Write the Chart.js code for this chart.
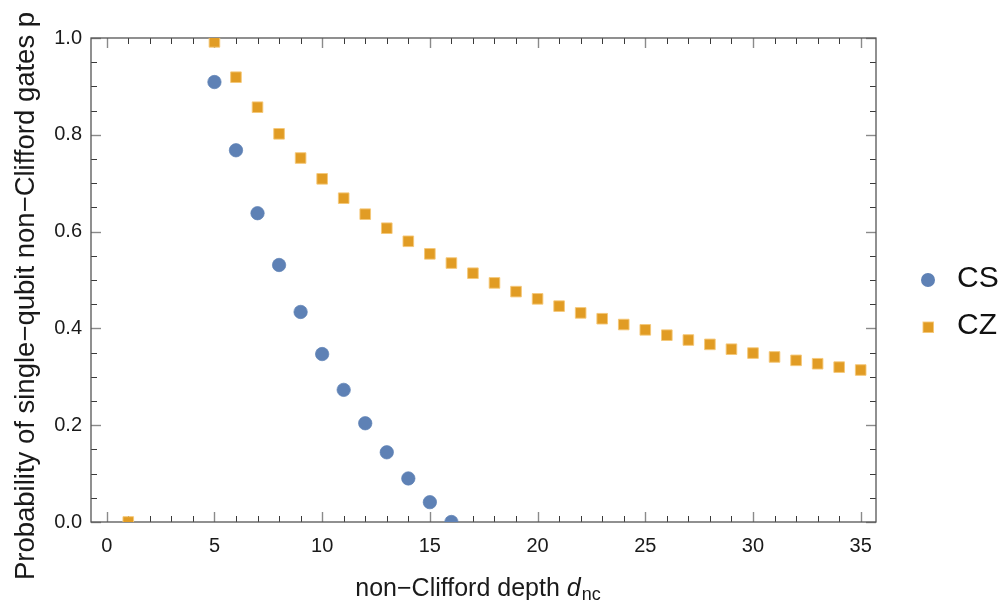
<!DOCTYPE html>
<html>
<head>
<meta charset="utf-8">
<script src="https://cdn.jsdelivr.net/npm/chart.js@4.4.1/dist/chart.umd.min.js"></script>
<style>
  html, body { margin: 0; padding: 0; background: #fff; }
  #wrap { width: 1003px; height: 600px; position: relative; }
</style>
</head>
<body>
<div id="wrap"><canvas id="c" width="1003" height="600"></canvas></div>
<script>
// ---- data ----
const csX = [5, 6, 7, 8, 9, 10, 11, 12, 13, 14, 15, 16];
const csY = [0.909, 0.768, 0.638, 0.531, 0.434, 0.347, 0.273, 0.204, 0.144, 0.090, 0.041, 0.0];
const czX = [1, 5, 6, 7, 8, 9, 10, 11, 12, 13, 14, 15, 16, 17, 18, 19, 20, 21, 22, 23, 24, 25, 26, 27, 28, 29, 30, 31, 32, 33, 34, 35];
const czY = [0.0, 0.992, 0.919, 0.857, 0.802, 0.752, 0.709, 0.669, 0.636, 0.607, 0.580, 0.554, 0.535, 0.514, 0.494, 0.476, 0.461, 0.446, 0.432, 0.420, 0.408, 0.397, 0.386, 0.376, 0.367, 0.357, 0.349, 0.341, 0.334, 0.327, 0.320, 0.314];
const seriesNames = ['CS', 'CZ'];
const xTickValues = [0, 5, 10, 15, 20, 25, 30, 35];
const yTickValues = [0, 0.2, 0.4, 0.6, 0.8, 1.0];
const xTitle = 'non\u2212Clifford depth ';
const xTitleItalic = 'd';
const xTitleSub = 'nc';
const yTitle = 'Probability of single\u2212qubit non\u2212Clifford gates p';

const BLUE = '#5E81B5';
const ORANGE = '#E19C24';
const FONT = '"Liberation Sans", Arial, sans-serif';

const toPts = (xs, ys) => xs.map((x, i) => ({ x: x, y: ys[i] }));

const framePlugin = {
  id: 'frame',
  beforeDatasetsDraw(chart) {
    const { ctx, chartArea: a, scales } = chart;
    const xs = scales.x, ys = scales.y;
    ctx.save();
    const drawTick = (x1, y1, x2, y2, major) => {
      ctx.beginPath();
      ctx.strokeStyle = major ? '#8a8a8a' : '#3a3a3a';
      ctx.lineWidth = major ? 1.4 : 1;
      ctx.moveTo(x1, y1); ctx.lineTo(x2, y2); ctx.stroke();
    };
    for (let v = 0; v <= 35; v++) {
      const major = v % 5 === 0;
      const len = major ? 10 : 6;
      const px = Math.round(xs.getPixelForValue(v)) + 0.5;
      drawTick(px, a.bottom, px, a.bottom - len, major);
      drawTick(px, a.top, px, a.top + len, major);
    }
    for (let k = 0; k <= 20; k++) {
      const v = k * 0.05;
      const major = k % 4 === 0;
      const len = major ? 10 : 6;
      const py = Math.round(ys.getPixelForValue(v)) + 0.5;
      drawTick(a.left, py, a.left + len, py, major);
      drawTick(a.right, py, a.right - len, py, major);
    }
    ctx.strokeStyle = '#555555';
    ctx.lineWidth = 1.3;
    ctx.strokeRect(a.left, a.top, a.right - a.left, a.bottom - a.top);
    ctx.restore();
  },
  afterDraw(chart) {
    const { ctx } = chart;
    ctx.save();
    ctx.fillStyle = '#1a1a1a';
    const fs = 25;
    ctx.font = fs + 'px ' + FONT;
    const w1 = ctx.measureText(xTitle).width;
    ctx.font = 'italic ' + fs + 'px ' + FONT;
    const w2 = ctx.measureText(xTitleItalic).width;
    ctx.font = Math.round(fs * 0.72) + 'px ' + FONT;
    const w3 = ctx.measureText(xTitleSub).width;
    const total = w1 + w2 + w3 + 1;
    let x0 = 478 - total / 2;
    const base = 596;
    ctx.textBaseline = 'alphabetic';
    ctx.textAlign = 'left';
    ctx.font = fs + 'px ' + FONT;
    ctx.fillText(xTitle, x0, base);
    ctx.font = 'italic ' + fs + 'px ' + FONT;
    ctx.fillText(xTitleItalic, x0 + w1, base);
    ctx.font = Math.round(fs * 0.72) + 'px ' + FONT;
    ctx.fillText(xTitleSub, x0 + w1 + w2 + 1, base + 4);
    // y title
    ctx.save();
    ctx.translate(34, 296);
    ctx.rotate(-Math.PI / 2);
    ctx.font = '27.5px ' + FONT;
    ctx.textAlign = 'center';
    ctx.fillText(yTitle, 0, 0);
    ctx.restore();
    // legend
    ctx.font = '30px ' + FONT;
    ctx.textAlign = 'left';
    ctx.fillStyle = '#111';
    ctx.fillText(seriesNames[0], 957, 287);
    ctx.fillText(seriesNames[1], 957, 334);
    ctx.beginPath();
    ctx.fillStyle = BLUE;
    ctx.arc(928, 280, 7, 0, Math.PI * 2);
    ctx.fill();
    ctx.fillStyle = ORANGE;
    ctx.strokeStyle = 'rgba(245,200,120,0.9)';
    ctx.lineWidth = 1;
    ctx.fillRect(923, 322, 10.5, 10.5);
    ctx.strokeRect(923, 322, 10.5, 10.5);
    ctx.restore();
  }
};

new Chart(document.getElementById('c'), {
  type: 'scatter',
  data: {
    datasets: [
      {
        label: seriesNames[0],
        data: toPts(csX, csY),
        pointStyle: 'circle',
        pointRadius: 6.7,
        pointHoverRadius: 6.7,
        backgroundColor: BLUE,
        borderColor: 'rgba(94,129,181,0.7)',
        borderWidth: 1,
        clip: 0
      },
      {
        label: seriesNames[1],
        data: toPts(czX, czY),
        pointStyle: 'rect',
        pointRadius: 7.5,
        pointHoverRadius: 7.5,
        backgroundColor: ORANGE,
        borderColor: 'rgba(245,200,120,0.9)',
        borderWidth: 1,
        clip: 0
      }
    ]
  },
  options: {
    responsive: false,
    animation: false,
    events: [],
    layout: { padding: { left: 0, top: 38, right: 127, bottom: 0 } },
    plugins: { legend: { display: false }, tooltip: { enabled: false } },
    scales: {
      x: {
        type: 'linear',
        min: -0.73,
        max: 35.71,
        afterFit: (s) => { s.height = 78; },
        afterBuildTicks: (s) => { s.ticks = xTickValues.map(v => ({ value: v })); },
        grid: { display: false, drawTicks: false },
        border: { display: false },
        ticks: {
          padding: 12,
          color: '#1a1a1a',
          font: { family: FONT, size: 20 },
          callback: (v) => String(v),
          maxRotation: 0,
          autoSkip: false
        }
      },
      y: {
        type: 'linear',
        min: 0,
        max: 1,
        afterFit: (s) => { s.width = 91; },
        afterBuildTicks: (s) => { s.ticks = yTickValues.map(v => ({ value: v })); },
        grid: { display: false, drawTicks: false },
        border: { display: false },
        ticks: {
          padding: 9,
          color: '#1a1a1a',
          font: { family: FONT, size: 20 },
          callback: (v) => Number(v).toFixed(1),
          autoSkip: false
        }
      }
    }
  },
  plugins: [framePlugin]
});
</script>
</body>
</html>
